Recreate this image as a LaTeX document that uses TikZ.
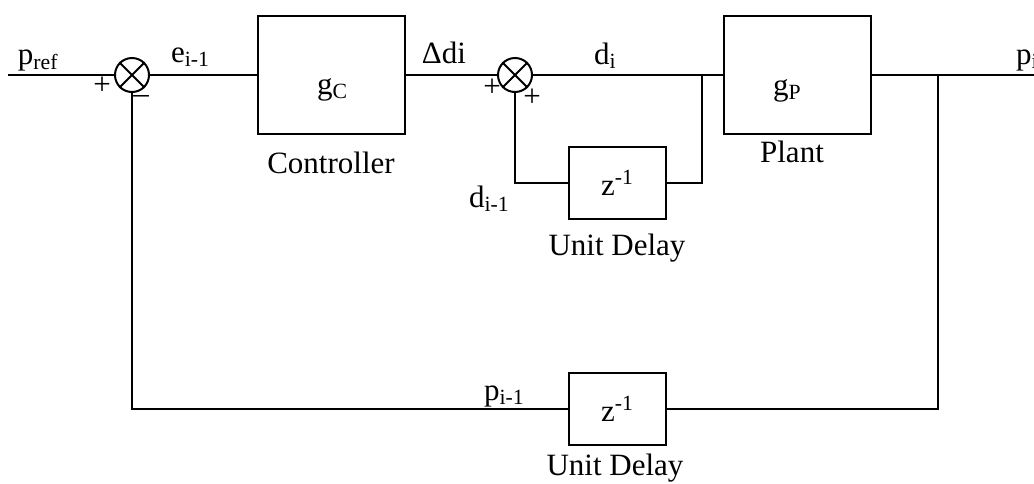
\documentclass[tikz,border=0pt]{standalone}
\usepackage{fontspec}
\setmainfont{Liberation Serif}
\usetikzlibrary{positioning}
\begin{document}
\begin{tikzpicture}[x=0.5pt, y=-0.5pt, line width=1pt,
  every node/.style={font=\fontsize{15.5}{18}\selectfont, inner sep=0pt},
  block/.style={draw, minimum width=73.5pt, minimum height=59pt},
  delaybox/.style={draw, minimum width=48.5pt, minimum height=36pt},
  sumnode/.style={draw, circle, minimum size=17pt}]
  \useasboundingbox (0,0) rectangle (1034,483);

  % blocks
  \node[sumnode] (s1) at (132,75) {};
  \node[block] (ctrl) at (331.5,75) {};
  \node[sumnode] (s2) at (515,75) {};
  \node[block] (plant) at (797.5,75) {};
  \node[delaybox] (dl1) at (617.5,183) {z\textsuperscript{-1}};
  \node[delaybox] (dl2) at (617.5,409) {z\textsuperscript{-1}};
  \draw (s1.north west) -- (s1.south east) (s1.north east) -- (s1.south west);
  \draw (s2.north west) -- (s2.south east) (s2.north east) -- (s2.south west);

  % forward path
  \coordinate (in) at (8,75);
  \coordinate (out) at (1034,75);
  \coordinate (br1) at (702,75);
  \coordinate (br2) at (938,75);
  \draw (in) -- (s1.west);
  \draw (s1.east) -- (ctrl.west);
  \draw (ctrl.east) -- (s2.west);
  \draw (s2.east) -- (plant.west);
  \draw (plant.east) -- (out);

  % inner loop
  \draw (br1) |- (dl1.east);
  \draw (dl1.west) -| (s2.south);

  % outer loop
  \draw (br2) |- (dl2.east);
  \draw (dl2.west) -| (s1.south);

  % signal labels
  \node[anchor=base west] at (17,64) {p\textsubscript{ref}};
  \node[anchor=base west] at (170,62) {e\textsubscript{i-1}};
  \node[anchor=base] at (444,63) {Δdi};
  \node[anchor=base west] at (593,64) {d\textsubscript{i}};
  \node[anchor=base west] at (468,207) {d\textsubscript{i-1}};
  \node[anchor=base west] at (1015,64) {p\textsubscript{i}};
  \node[anchor=base west] at (483,400) {p\textsubscript{i-1}};

  % signs
  \node at (102,86) {+};
  \node at (141,99) {\textendash};
  \node at (492,88) {+};
  \node at (532,98) {+};

  % block texts
  \node[anchor=base west] at (316,94) {g\textsubscript{C}};
  \node[anchor=base] at (331,173) {Controller};
  \node[anchor=base west] at (772,95) {g\textsubscript{P}};
  \node[anchor=base] at (792,162) {Plant};
  \node[anchor=base] at (617,255) {Unit Delay};
  \node[anchor=base] at (615,475) {Unit Delay};
\end{tikzpicture}
\end{document}
